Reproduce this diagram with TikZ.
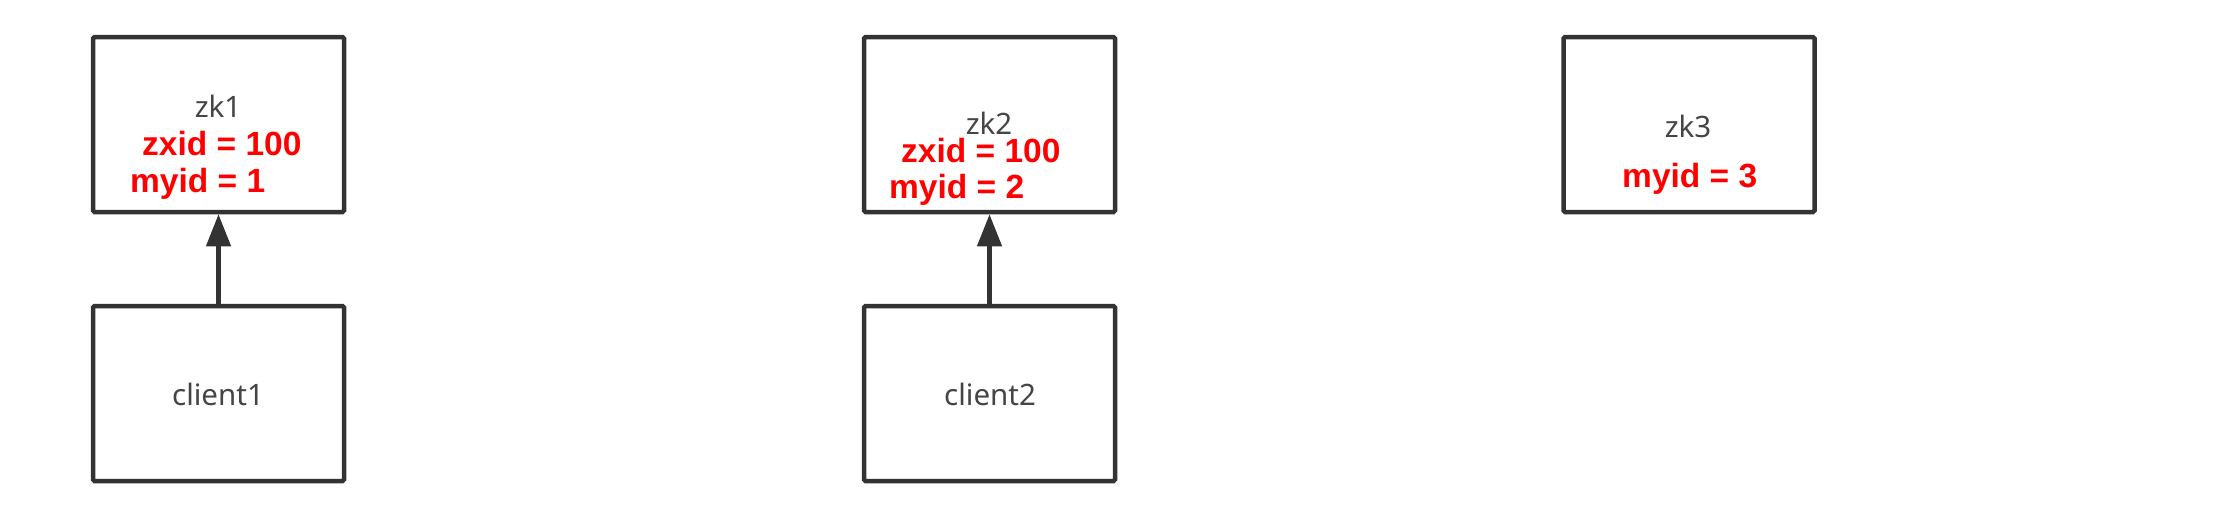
\documentclass[tikz,border=0pt]{standalone}
\usepackage{fontspec}
\setmainfont{Noto Sans}
\newfontfamily\redfont{Liberation Sans}[BoldFont={Liberation Sans Bold}]
\usetikzlibrary{arrows.meta}
\definecolor{boxline}{HTML}{333333}
\definecolor{graytext}{HTML}{454545}
\definecolor{redtext}{HTML}{FF0000}
\tikzset{
  srvbox/.style={draw=boxline, line width=4.5pt, rounded corners=1.5pt, minimum width=251pt, minimum height=175pt, inner sep=0pt, fill=white},
  graylabel/.style={text=graytext, font=\fontsize{29.5}{32}\selectfont, inner sep=0pt},
  redlabel/.style={text=redtext, font=\redfont\bfseries\fontsize{33.5}{36}\selectfont, inner sep=0pt, anchor=base west},
  conn/.style={draw=boxline, line width=4.5pt, -{Triangle[length=32pt,width=24pt]}}
}
\begin{document}
\begin{tikzpicture}[x=1pt,y=-1pt]
\useasboundingbox[fill=white] (0,0) rectangle (2215,515);
% boxes
\node[srvbox] (zk1) at (218.5,124.5) {};
\node[srvbox] (client1) at (218.5,393.5) {};
\node[srvbox] (zk2) at (989.5,124.5) {};
\node[srvbox] (client2) at (989.5,393.5) {};
\node[srvbox] (zk3) at (1689,124.5) {};
% connectors
\draw[conn] (client1.north) -- (zk1.south);
\draw[conn] (client2.north) -- (zk2.south);
% gray labels
\node[graylabel, anchor=base] (zk1t) at (218,117) {zk1};
\node[graylabel, anchor=base] (zk2t) at (989,134) {zk2};
\node[graylabel, anchor=base] (zk3t) at (1688,137) {zk3};
\node[graylabel, anchor=base] (c1t) at (218,405) {client1};
\node[graylabel, anchor=base] (c2t) at (990,405) {client2};
% red labels
\node[redlabel] (zx1) at (142,155) {zxid = 100};
\node[redlabel] (my1) at (130,192) {myid = 1};
\node[redlabel] (zx2) at (901,162) {zxid = 100};
\node[redlabel] (my2) at (889,198) {myid = 2};
\node[redlabel] (my3) at (1622,187) {myid = 3};
\end{tikzpicture}
\end{document}
